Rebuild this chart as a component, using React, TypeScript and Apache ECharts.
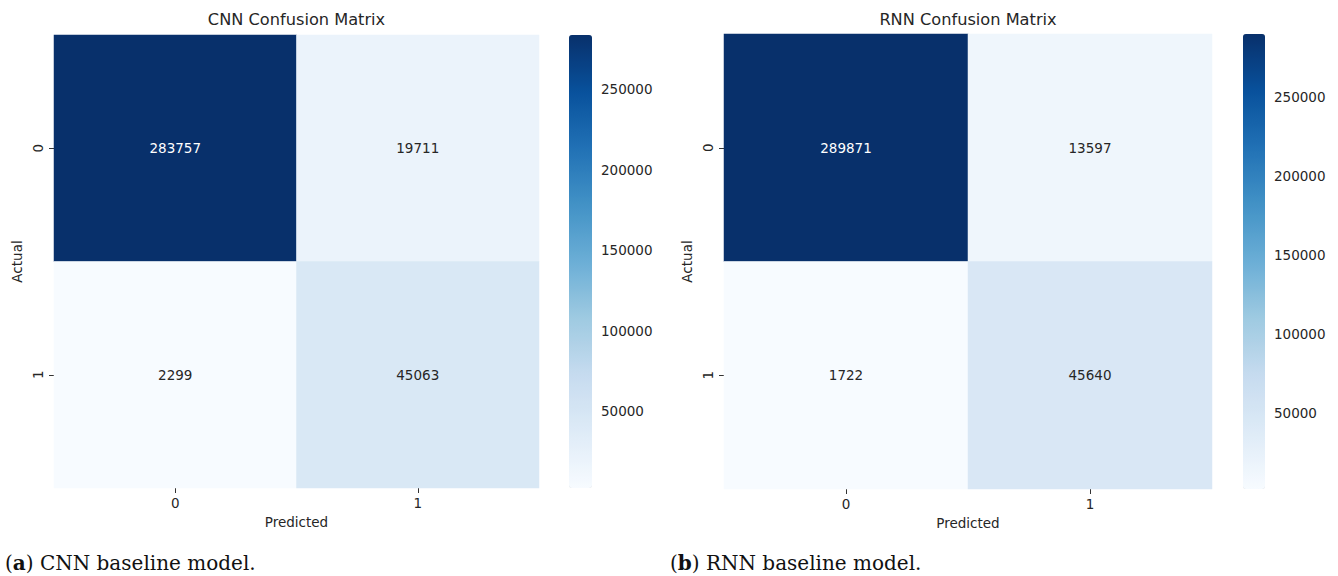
import React, { useEffect, useRef } from "react";
import * as echarts from "echarts";

// Class labels shared by both confusion matrices
const classes = ["0", "1"];

// Rows = actual class, columns = predicted class
const cnnMatrix = [
  [283757, 19711],
  [2299, 45063],
];
const rnnMatrix = [
  [289871, 13597],
  [1722, 45640],
];

const cnnTitle = "CNN Confusion Matrix";
const rnnTitle = "RNN Confusion Matrix";

// Colorbar tick values
const colorbarTicks = [50000, 100000, 150000, 200000, 250000];

// Matplotlib "Blues" colormap stops
const blues = [
  "#f7fbff",
  "#deebf7",
  "#c6dbef",
  "#9ecae1",
  "#6baed6",
  "#4292c6",
  "#2171b5",
  "#08519c",
  "#08306b",
];

const FONT = "DejaVu Sans";
const TEXT = "#262626";

function toCells(matrix: number[][]) {
  const flat = matrix.flat();
  const lo = Math.min(...flat);
  const hi = Math.max(...flat);
  const cells: any[] = [];
  matrix.forEach((row, r) =>
    row.forEach((v, c) => {
      const t = (v - lo) / (hi - lo);
      cells.push({
        value: [c, r, v],
        label: { color: t > 0.6 ? "#ffffff" : TEXT },
      });
    })
  );
  return { cells, lo, hi };
}

type Panel = {
  title: string;
  matrix: number[][];
  grid: { left: number; top: number; width: number; height: number };
  bar: { left: number; top: number; width: number; height: number };
};

const panels: Panel[] = [
  {
    title: cnnTitle,
    matrix: cnnMatrix,
    grid: { left: 54, top: 35, width: 485, height: 453 },
    bar: { left: 569, top: 35, width: 23, height: 453 },
  },
  {
    title: rnnTitle,
    matrix: rnnMatrix,
    grid: { left: 724, top: 34, width: 488, height: 455 },
    bar: { left: 1243, top: 34, width: 22, height: 455 },
  },
];

function buildOption() {
  const grids: any[] = [];
  const xAxes: any[] = [];
  const yAxes: any[] = [];
  const series: any[] = [];
  const visualMaps: any[] = [];
  const titles: any[] = [];

  panels.forEach((p, i) => {
    const { cells, lo, hi } = toCells(p.matrix);
    const gi = grids.length;
    grids.push({ ...p.grid, containLabel: false });
    xAxes.push({
      gridIndex: gi,
      type: "category",
      data: classes,
      name: "Predicted",
      nameLocation: "middle",
      nameGap: 26,
      nameTextStyle: { fontFamily: FONT, fontSize: 13.5, color: TEXT },
      axisLine: { show: false },
      axisTick: { show: true, alignWithLabel: true, length: 5, lineStyle: { color: "#333" } },
      axisLabel: { fontFamily: FONT, fontSize: 13.5, color: TEXT, margin: 8 },
      splitLine: { show: false },
    });
    yAxes.push({
      gridIndex: gi,
      type: "category",
      data: classes,
      inverse: true,
      name: "Actual",
      nameLocation: "middle",
      nameGap: 30,
      nameTextStyle: { fontFamily: FONT, fontSize: 13.5, color: TEXT },
      axisLine: { show: false },
      axisTick: { show: true, alignWithLabel: true, length: 5, lineStyle: { color: "#333" } },
      axisLabel: { fontFamily: FONT, fontSize: 13.5, color: TEXT, margin: 9, rotate: 90 },
      splitLine: { show: false },
    });
    series.push({
      type: "heatmap",
      xAxisIndex: gi,
      yAxisIndex: gi,
      data: cells,
      label: {
        show: true,
        fontFamily: FONT,
        fontSize: 13.5,
        formatter: (d: any) => String(d.value[2]),
      },
      emphasis: { disabled: true },
    });

    // Colorbar axis grid
    const bi = grids.length;
    grids.push({ ...p.bar, containLabel: false });
    xAxes.push({ gridIndex: bi, type: "value", show: false, min: 0, max: 1 });
    yAxes.push({
      gridIndex: bi,
      type: "value",
      position: "right",
      min: lo,
      max: hi,
      axisLine: { show: false },
      splitLine: { show: false },
      axisTick: {
        show: true,
        length: 5,
        customValues: colorbarTicks,
        lineStyle: { color: "#333" },
      },
      axisLabel: {
        customValues: colorbarTicks,
        formatter: (v: number) => String(v),
        fontFamily: FONT,
        fontSize: 13.5,
        color: TEXT,
        margin: 9,
      },
    });

    visualMaps.push({
      type: "continuous",
      seriesIndex: i,
      min: lo,
      max: hi,
      calculable: false,
      hoverLink: false,
      orient: "vertical",
      left: p.bar.left,
      top: p.bar.top,
      itemWidth: p.bar.width,
      itemHeight: p.bar.height,
      padding: 0,
      text: null,
      showLabel: false,
      inRange: { color: blues },
    });

    titles.push({
      text: p.title,
      left: p.grid.left + p.grid.width / 2,
      top: 11,
      padding: 0,
      textAlign: "center",
      textStyle: { fontFamily: FONT, fontSize: 16.2, fontWeight: "normal", color: TEXT },
    });
  });

  const captionStyle = (text: string, x: number) => ({
    type: "text",
    x,
    y: 563,
    style: {
      text,
      fontFamily: "DejaVu Serif",
      fontSize: 20,
      fill: "#111",
      verticalAlign: "middle",
      rich: {
        b: { fontFamily: "DejaVu Serif", fontSize: 20, fontWeight: "bold", fill: "#111" },
      },
    },
  });

  return {
    animation: false,
    backgroundColor: "#ffffff",
    title: titles,
    grid: grids,
    xAxis: xAxes,
    yAxis: yAxes,
    visualMap: visualMaps,
    series,
    graphic: [
      captionStyle("({b|a}) CNN baseline model.", 5),
      captionStyle("({b|b}) RNN baseline model.", 670),
    ],
  };
}

export default function App() {
  const ref = useRef<HTMLDivElement>(null);
  useEffect(() => {
    if (!ref.current) return;
    const chart = echarts.init(ref.current, undefined, { renderer: "svg" });
    chart.setOption(buildOption() as any);
    return () => chart.dispose();
  }, []);
  return (
    <div
      ref={ref}
      style={{ position: "fixed", left: 0, top: 0, width: 1338, height: 576 }}
    />
  );
}
